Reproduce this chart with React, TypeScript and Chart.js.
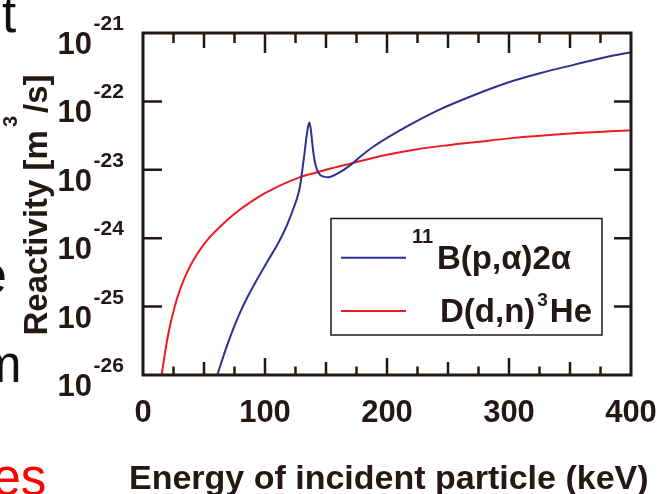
import React, { useEffect, useRef } from "react";
import { Chart, registerables } from "chart.js";

Chart.register(...registerables);

// ---------- data ----------
// D(d,n)3He
const ddEnergy = [
  15.3, 16.5, 18, 20, 22, 25, 27.6, 31, 35.8, 41, 46.7, 53, 60.4, 70, 79.5, 90, 100, 110, 120, 130, 140, 150,
  170, 200, 225, 250, 275, 300, 350, 400,
];
const ddReactivity = [
  1.0e-26, 1.41e-26, 2.09e-26, 3.39e-26, 5.13e-26, 8.51e-26, 1.26e-25, 1.91e-25, 3.09e-25, 4.68e-25, 6.76e-25,
  9.55e-25, 1.32e-24, 1.91e-24, 2.63e-24, 3.55e-24, 4.57e-24, 5.62e-24, 6.76e-24, 7.94e-24, 8.91e-24, 1.0e-23,
  1.23e-23, 1.66e-23, 2.0e-23, 2.29e-23, 2.57e-23, 2.88e-23, 3.39e-23, 3.8e-23,
];
// 11B(p,α)2α
const pbEnergy = [
  60.9, 68.3, 74.3, 78.7, 86.3, 94.5, 102.7, 110.9, 117, 120.5, 123, 126, 128, 129.5, 131, 132.5, 134, 135.3,
  136.4, 137.5, 139, 140.5, 142.5, 145, 148, 152, 159, 170, 178, 189, 216, 243, 271, 298, 326, 353, 380, 400,
];
const pbReactivity = [
  1.0e-26, 2.51e-26, 4.9e-26, 7.59e-26, 1.45e-25, 2.69e-25, 4.79e-25, 8.51e-25, 1.41e-24, 2.0e-24, 2.63e-24,
  3.72e-24, 5.01e-24, 7.08e-24, 1.12e-23, 1.82e-23, 3.02e-23, 4.27e-23, 4.9e-23, 3.98e-23, 2.24e-23, 1.41e-23,
  1.02e-23, 8.51e-24, 7.94e-24, 7.76e-24, 8.71e-24, 1.17e-23, 1.55e-23, 2.19e-23, 4.27e-23, 7.59e-23,
  1.23e-22, 1.86e-22, 2.6e-22, 3.42e-22, 4.47e-22, 5.25e-22,
];

// ---------- axes / labels ----------
const xMin = 0;
const xMax = 400;
const xMinorStep = 25;
const xTickValues = [0, 100, 200, 300, 400];
const xTickLabels = ["0", "100", "200", "300", "400"];
const yTickValues = [1e-21, 1e-22, 1e-23, 1e-24, 1e-25, 1e-26];
const yTickExponents = ["-21", "-22", "-23", "-24", "-25", "-26"];
const xTitle = "Energy of incident particle (keV)";
const yTitleParts = ["Reactivity [m", "3", "/s]"];
const pbLegendParts = ["11", "B(p,α)2α"];
const ddLegendParts = ["D(d,n)", "3", "He"];

const INK = "#231815";
const BLUE = "#2E3192";
const RED = "#ED1C24";
const FONT = "'Liberation Sans', Arial, Helvetica, sans-serif";

const decorPlugin = {
  id: "decor",
  afterDatasetsDraw(chart: any) {
    const ctx: CanvasRenderingContext2D = chart.ctx;
    const { left, right, top, bottom } = chart.chartArea;
    const xs = chart.scales.x;
    const ys = chart.scales.y;
    ctx.save();

    // frame
    ctx.strokeStyle = INK;
    ctx.lineWidth = 3;
    ctx.strokeRect(left, top, right - left, bottom - top);

    // inward ticks
    ctx.lineWidth = 2.5;
    ctx.beginPath();
    for (let v = xMin + xMinorStep; v < xMax; v += xMinorStep) {
      const px = xs.getPixelForValue(v);
      const lb = v % 100 === 0 ? 17 : v % 50 === 0 ? 13 : 8.5;
      const lt = v % 100 === 0 ? 20 : v % 50 === 0 ? 15 : 10;
      ctx.moveTo(px, bottom);
      ctx.lineTo(px, bottom - lb);
      ctx.moveTo(px, top);
      ctx.lineTo(px, top + lt);
    }
    yTickValues.forEach((v, i) => {
      if (i === 0 || i === yTickValues.length - 1) return;
      const py = ys.getPixelForValue(v);
      ctx.moveTo(left, py);
      ctx.lineTo(left + 19, py);
      ctx.moveTo(right, py);
      ctx.lineTo(right - 17, py);
    });
    ctx.stroke();

    // y tick labels
    ctx.fillStyle = INK;
    ctx.textBaseline = "alphabetic";
    yTickValues.forEach((v, i) => {
      const py = ys.getPixelForValue(v);
      ctx.font = `bold 31px ${FONT}`;
      ctx.textAlign = "right";
      ctx.fillText("10", 92, py + 21);
      ctx.font = `bold 21px ${FONT}`;
      ctx.textAlign = "left";
      ctx.fillText(yTickExponents[i], 93.5, py - 3);
    });

    // x tick labels
    ctx.font = `bold 31px ${FONT}`;
    ctx.textAlign = "center";
    xTickValues.forEach((v, i) => {
      ctx.fillText(xTickLabels[i], xs.getPixelForValue(v), 422);
    });

    // x title
    ctx.font = `bold 34px ${FONT}`;
    ctx.textAlign = "left";
    ctx.fillText(xTitle, 129, 489);

    // y title (rotated)
    ctx.save();
    ctx.translate(47, 205);
    ctx.rotate(-Math.PI / 2);
    const fMain = `bold 33px ${FONT}`;
    const fSup = `bold 20px ${FONT}`;
    ctx.font = fMain;
    const w1 = ctx.measureText(yTitleParts[0]).width;
    const w3 = ctx.measureText(yTitleParts[2]).width;
    ctx.font = fSup;
    const w2 = ctx.measureText(yTitleParts[1]).width;
    const gap = 3;
    const total = w1 + gap + w2 + gap + w3;
    let cx = -total / 2;
    ctx.textAlign = "left";
    ctx.font = fMain;
    ctx.fillText(yTitleParts[0], cx, 0);
    cx += w1 + gap;
    ctx.font = fSup;
    ctx.fillText(yTitleParts[1], cx, -30);
    cx += w2 + gap;
    ctx.font = fMain;
    ctx.fillText(yTitleParts[2], cx, 0);
    ctx.restore();

    // legend
    const bx = 331, by = 218.5, bw = 271, bh = 116.5;
    ctx.fillStyle = "#ffffff";
    ctx.fillRect(bx, by, bw, bh);
    ctx.strokeStyle = INK;
    ctx.lineWidth = 1.5;
    ctx.strokeRect(bx, by, bw, bh);

    const ds = chart.data.datasets;
    ctx.lineWidth = 2;
    ctx.strokeStyle = ds[0].borderColor;
    ctx.beginPath();
    ctx.moveTo(341, 257.7);
    ctx.lineTo(406, 257.7);
    ctx.stroke();
    ctx.strokeStyle = ds[1].borderColor;
    ctx.beginPath();
    ctx.moveTo(341, 311);
    ctx.lineTo(406, 311);
    ctx.stroke();

    ctx.fillStyle = INK;
    ctx.textAlign = "left";
    ctx.font = `bold 20px ${FONT}`;
    ctx.fillText(pbLegendParts[0], 412, 243);
    ctx.font = `bold 33px ${FONT}`;
    ctx.fillText(pbLegendParts[1], 437, 268.5);

    ctx.font = `bold 33px ${FONT}`;
    ctx.fillText(ddLegendParts[0], 440, 321.7);
    const wD = ctx.measureText(ddLegendParts[0]).width;
    ctx.font = `bold 19px ${FONT}`;
    ctx.fillText(ddLegendParts[1], 440 + wD + 2, 305.5);
    const w3b = ctx.measureText(ddLegendParts[1]).width;
    ctx.font = `bold 33px ${FONT}`;
    ctx.fillText(ddLegendParts[2], 440 + wD + 2 + w3b + 2, 321.7);

    ctx.restore();
  },
};

export default function App() {
  const ref = useRef<HTMLCanvasElement>(null);

  useEffect(() => {
    if (!ref.current) return;
    const chart = new Chart(ref.current, {
      type: "line",
      data: {
        datasets: [
          {
            label: "11B(p,α)2α",
            data: pbEnergy.map((e, i) => ({ x: e, y: pbReactivity[i] })),
            borderColor: BLUE,
            backgroundColor: BLUE,
            borderWidth: 2,
            pointRadius: 0,
            fill: false,
            cubicInterpolationMode: "monotone",
          },
          {
            label: "D(d,n)3He",
            data: ddEnergy.map((e, i) => ({ x: e, y: ddReactivity[i] })),
            borderColor: RED,
            backgroundColor: RED,
            borderWidth: 2,
            pointRadius: 0,
            fill: false,
            cubicInterpolationMode: "monotone",
          },
        ],
      },
      options: {
        animation: false,
        responsive: false,
        events: [],
        layout: { padding: { left: 143, top: 33, right: 30, bottom: 119 } },
        plugins: { legend: { display: false }, tooltip: { enabled: false }, title: { display: false } },
        scales: {
          x: { type: "linear", min: xMin, max: xMax, display: false },
          y: { type: "logarithmic", min: 1e-26, max: 1e-21, display: false },
        },
      },
      plugins: [decorPlugin],
    } as any);
    return () => chart.destroy();
  }, []);

  const frag = (text: string, left: number, top: number, color: string) => (
    <div
      style={{
        position: "absolute",
        left,
        top,
        font: `51px ${FONT}`,
        lineHeight: "51px",
        color,
        whiteSpace: "nowrap",
      }}
    >
      {text}
    </div>
  );

  return (
    <div
      style={{
        position: "fixed",
        left: 0,
        top: 0,
        width: 661,
        height: 494,
        overflow: "hidden",
        background: "#ffffff",
      }}
    >
      {frag("t", 2, -11, "#111111")}
      {frag("e", -21.5, 250, "#111111")}
      {frag("m", -21, 338.5, "#111111")}
      {frag("es", -7.5, 452, "#ff0000")}
      <canvas
        ref={ref}
        width={661}
        height={494}
        style={{ position: "absolute", left: 0, top: 0, width: 661, height: 494 }}
      />
    </div>
  );
}
